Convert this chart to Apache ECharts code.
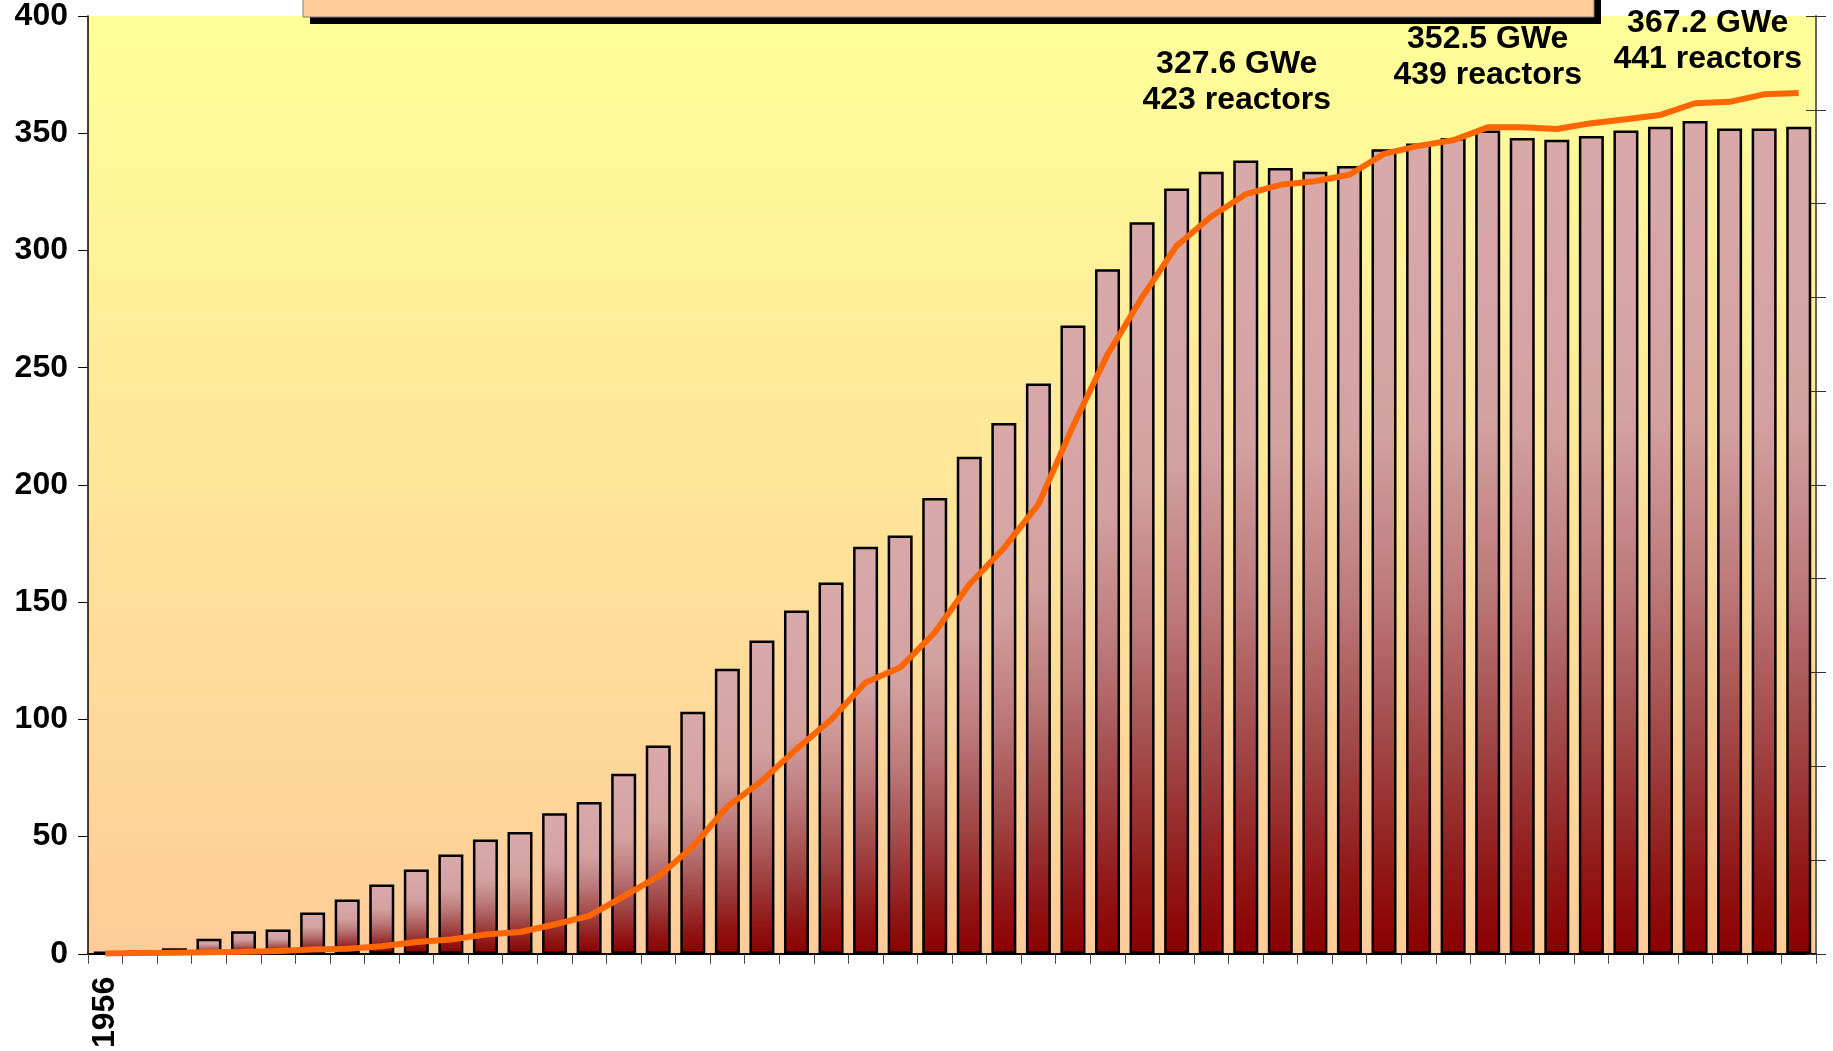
<!DOCTYPE html>
<html>
<head>
<meta charset="utf-8">
<title>Nuclear power reactors</title>
<script src="https://cdn.jsdelivr.net/npm/echarts@6/dist/echarts.min.js"></script>
<style>
  html, body { margin: 0; padding: 0; background: #fff; }
  #chart { width: 1833px; height: 1051px; }
</style>
</head>
<body>
<div id="chart"></div>
<script>
// years (only the first one is labelled on the axis)
const years = ['1956', '1957', '1958', '1959', '1960', '1961', '1962', '1963', '1964', '1965',
  '1966', '1967', '1968', '1969', '1970', '1971', '1972', '1973', '1974', '1975',
  '1976', '1977', '1978', '1979', '1980', '1981', '1982', '1983', '1984', '1985',
  '1986', '1987', '1988', '1989', '1990', '1991', '1992', '1993', '1994', '1995',
  '1996', '1997', '1998', '1999', '2000', '2001', '2002', '2003', '2004', '2005'];

// number of reactors in operation (bars, right axis)
const reactors = [1, 2, 3, 8, 12, 13, 22, 29, 37, 45,
  53, 61, 65, 75, 81, 96, 111, 129, 152, 167,
  183, 198, 217, 223, 243, 265, 283, 304, 335, 365,
  390, 408, 417, 423, 419, 417, 420, 429, 432, 435,
  439, 435, 434, 436, 439, 441, 444, 440, 440, 441];

// installed capacity in GWe (line, left axis)
const gwe = [0.1, 0.3, 0.5, 0.7, 0.9, 1.2, 1.8, 2.2, 3.2, 5.0,
  6.1, 8.2, 9.3, 12.5, 16.2, 24.5, 33, 45.7, 62.8, 73.8,
  87.3, 99.8, 115.7, 122.1, 137, 157.5, 173, 191.7, 225, 255.6,
  280, 302, 314.5, 324, 328, 329.5, 332.3, 341.2, 344.6, 347,
  352.5, 352.5, 351.8, 354.3, 356, 357.8, 362.8, 363.4, 366.6, 367.2];

// annotations above the line
const noteIndex = [33, 40, 49];
const noteGwe = ['327.6', '352.5', '367.2'];
const noteReactors = ['423', '439', '441'];
const noteOffset = [[-9, -76], [0, -34], [-91, -16]];

const font = 'Liberation Sans, Arial, sans-serif';

const lineData = gwe.map((v, i) => {
  const k = noteIndex.indexOf(i);
  if (k < 0) return v;
  return {
    value: v,
    label: {
      show: true,
      position: 'top',
      distance: 0,
      offset: noteOffset[k],
      formatter: noteGwe[k] + ' GWe\n' + noteReactors[k] + ' reactors',
      fontFamily: font,
      fontWeight: 'bold',
      fontSize: 32,
      lineHeight: 36,
      color: '#000'
    }
  };
});

const myChart = echarts.init(document.getElementById('chart'));

const option = {
  animation: false,
  backgroundColor: '#fff',
  grid: {
    left: 88, right: 17, top: 16, bottom: 96,
    show: true,
    borderWidth: 0,
    backgroundColor: new echarts.graphic.LinearGradient(0, 0, 0, 1, [
      { offset: 0, color: '#FFFF99' },
      { offset: 1, color: '#FFCC99' }
    ])
  },
  xAxis: {
    type: 'category',
    data: years,
    axisLine: { lineStyle: { color: '#000', width: 2 } },
    axisTick: { show: true, interval: 0, length: 10, lineStyle: { color: '#444', width: 1 } },
    axisLabel: {
      interval: (i) => i === 0,
      rotate: 90,
      margin: 23,
      fontFamily: font,
      fontWeight: 'bold',
      fontSize: 32,
      color: '#000'
    },
    splitLine: { show: false }
  },
  yAxis: [
    {
      type: 'value',
      position: 'left',
      min: 0, max: 400, interval: 50,
      axisLine: { show: true, lineStyle: { color: '#000', width: 1.5 } },
      axisTick: { show: true, length: 10, lineStyle: { color: '#000' } },
      axisLabel: {
        margin: 20,
        fontFamily: font,
        fontWeight: 'bold',
        fontSize: 32,
        color: '#000'
      },
      splitLine: { show: false }
    },
    {
      type: 'value',
      position: 'right',
      min: 0, max: 500, interval: 50,
      axisLine: { show: true, lineStyle: { color: '#666', width: 2 } },
      axisTick: { show: true, length: 10, lineStyle: { color: '#333' } },
      axisLabel: { show: false },
      splitLine: { show: false }
    },
    {
      // same axis again, ticks pointing into the plot
      type: 'value',
      position: 'right',
      min: 0, max: 500, interval: 50,
      axisLine: { show: false },
      axisTick: { show: true, inside: true, length: 10, lineStyle: { color: '#333' } },
      axisLabel: { show: false },
      splitLine: { show: false }
    }
  ],
  series: [
    {
      name: 'reactors',
      type: 'bar',
      yAxisIndex: 1,
      barWidth: 25,
      data: reactors,
      itemStyle: {
        borderColor: '#000',
        borderWidth: 2.5,
        color: new echarts.graphic.LinearGradient(0, 0, 0, 1, [
          { offset: 0, color: '#D9A9A9' },
          { offset: 0.35, color: '#D4A1A1' },
          { offset: 0.55, color: '#BD7A7A' },
          { offset: 0.75, color: '#A04444' },
          { offset: 0.9, color: '#911717' },
          { offset: 1, color: '#8B0000' }
        ])
      }
    },
    {
      name: 'GWe',
      type: 'line',
      yAxisIndex: 0,
      data: lineData,
      showSymbol: true,
      symbol: 'circle',
      symbolSize: 0,
      lineStyle: { color: '#FF6600', width: 6 },
      itemStyle: { color: '#FF6600' },
      z: 5
    }
  ],
  graphic: [
    {
      type: 'rect',
      z: 100,
      shape: { x: 310, y: -3, width: 1291, height: 27 },
      style: { fill: '#000' }
    },
    {
      type: 'rect',
      z: 101,
      shape: { x: 303, y: -10, width: 1291, height: 27 },
      style: { fill: '#FFCC99', stroke: '#7F7F7F', lineWidth: 1 }
    }
  ]
};

myChart.setOption(option);
</script>
</body>
</html>
